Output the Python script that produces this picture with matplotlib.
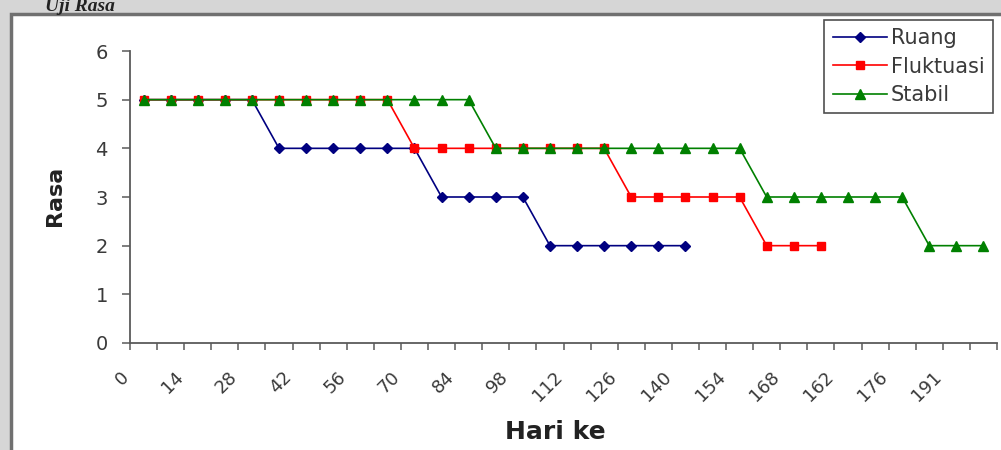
"""Uji Rasa: taste score per storage condition, Excel-style line chart."""
import matplotlib
matplotlib.use("Agg")
import matplotlib.pyplot as plt
from matplotlib.patches import Rectangle
import numpy as np

# ---- data --------------------------------------------------------------------
day_labels = ["0", "14", "28", "42", "56", "70", "84", "98", "112", "126",
              "140", "154", "168", "162", "176", "191"]

ruang = [5, 5, 5, 5, 5, 4, 4, 4, 4, 4, 4, 3, 3, 3, 3, 2, 2, 2, 2, 2, 2]
fluktuasi = [5, 5, 5, 5, 5, 5, 5, 5, 5, 5, 4, 4, 4, 4, 4, 4, 4, 4,
             3, 3, 3, 3, 3, 2, 2, 2]
stabil = [5, 5, 5, 5, 5, 5, 5, 5, 5, 5, 5, 5, 5, 4, 4, 4, 4, 4, 4, 4, 4, 4, 4,
          3, 3, 3, 3, 3, 3, 2, 2, 2]

n_cat = len(stabil)

# ---- styles ------------------------------------------------------------------
W, H = 1001, 450
BG = "#d6d6d6"
TXT = "#3a3a3a"
AX = "#5a5a5a"

series = [
    ("Ruang", ruang, "#000080", "D", 5.5),
    ("Fluktuasi", fluktuasi, "#ff0000", "s", 6),
    ("Stabil", stabil, "#008000", "^", 7),
]

fig = plt.figure(figsize=(W / 100, H / 100), dpi=100, facecolor=BG)

# page background and chart frame
fig.patches.append(Rectangle((11 / W, -0.1), 1.1, (H - 14) / H + 0.1,
                             transform=fig.transFigure, facecolor="white",
                             edgecolor="#707070", linewidth=2.5, zorder=-5))
fig.text(45 / W, 1 - 11 / H, "Uji Rasa", family="Liberation Serif",
         fontsize=14, fontweight="bold", fontstyle="italic", color="#222222",
         va="baseline", ha="left")

ax = fig.add_axes([130 / W, (H - 343) / H, (997 - 130) / W, (343 - 51) / H])
ax.set_facecolor("none")

for name, vals, color, marker, ms in series:
    x = np.arange(len(vals))
    ax.plot(x, vals, color=color, linewidth=1.2, marker=marker,
            markersize=ms, markerfacecolor=color, markeredgecolor=color,
            label=name, zorder=3)

ax.set_xlim(-0.5, n_cat - 0.5)
ax.set_ylim(0, 6)

for side in ("top", "right"):
    ax.spines[side].set_visible(False)
for side in ("left", "bottom"):
    ax.spines[side].set_color(AX)
    ax.spines[side].set_linewidth(1.3)

# y axis
ax.set_yticks(range(0, 7))
ax.tick_params(axis="y", direction="out", length=6, width=1.1, color=AX,
               labelsize=14, labelcolor=TXT, pad=10)

# x axis: boundary ticks, rotated labels every other category
ax.set_xticks(np.arange(-0.5, n_cat, 1.0), minor=True)
ax.set_xticks(np.arange(0, n_cat, 2) - 0.4)
ax.set_xticklabels(day_labels, rotation=45, ha="right", va="top")
ax.tick_params(axis="x", which="minor", direction="out", length=5,
               width=1.1, color=AX)
ax.tick_params(axis="x", which="major", length=0, labelsize=13,
               labelcolor=TXT, pad=18)

fig.text(555 / W, 1 - 432 / H, "Hari ke", fontsize=18, fontweight="bold",
         color="#222222", ha="center", va="center")
fig.text(55 / W, 1 - 196 / H, "Rasa", fontsize=16, fontweight="bold",
         color="#222222", ha="center", va="center", rotation=90)

leg = ax.legend(loc="upper right", bbox_to_anchor=(993 / W, 1 - 20 / H),
                bbox_transform=fig.transFigure, fontsize=15, frameon=True,
                fancybox=False, borderpad=0.4, labelspacing=0.4,
                handlelength=2.6, handletextpad=0.2, borderaxespad=0)
leg.get_frame().set_edgecolor("#222222")
leg.get_frame().set_linewidth(1.2)
for t in leg.get_texts():
    t.set_color(TXT)

fig.savefig("out.png", dpi=100, facecolor=BG)
